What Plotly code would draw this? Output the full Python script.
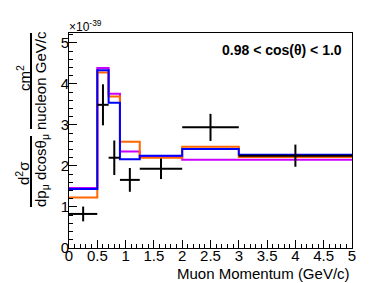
import plotly.graph_objects as go

# Data
bin_edges = [0, 0.5, 0.7, 0.9, 1.25, 2, 3, 5]
blue_vals = [1.44, 4.33, 3.54, 2.16, 2.25, 2.41, 2.27]
orange_vals = [1.23, 4.28, 3.69, 2.59, 2.20, 2.47, 2.22]
magenta_vals = [1.46, 4.39, 3.76, 2.35, 2.23, 2.15, 2.15]

data_x = [0.25, 0.6, 0.8, 1.075, 1.625, 2.5, 4.0]
data_xerr = [0.25, 0.1, 0.1, 0.175, 0.375, 0.5, 1.0]
data_y = [0.83, 3.49, 2.20, 1.66, 1.93, 2.94, 2.25]
data_yerr = [0.18, 0.50, 0.42, 0.29, 0.25, 0.33, 0.27]

x_ticks = [0, 0.5, 1, 1.5, 2, 2.5, 3, 3.5, 4, 4.5, 5]
x_ticklabels = ["0", "0.5", "1", "1.5", "2", "2.5", "3", "3.5", "4", "4.5", "5"]
y_ticks = [0, 1, 2, 3, 4, 5]
y_ticklabels = ["0", "1", "2", "3", "4", "5"]

W, H = 387, 283
L, R, T, B = 69, 35, 33, 35
pw, ph = W - L - R, H - T - B

def px(xp):
    return (xp - L) / pw

def py(yp):
    return (H - B - yp) / ph

FONT = "Liberation Sans, Arial, Helvetica, sans-serif"

fig = go.Figure()

def step_trace(vals, color):
    return go.Scatter(x=bin_edges, y=list(vals) + [vals[-1]], mode="lines",
                      line=dict(color=color, width=2, shape="hv"),
                      hoverinfo="skip", showlegend=False)

fig.add_trace(step_trace(magenta_vals, "#CC00FF"))
fig.add_trace(step_trace(orange_vals, "#FF6600"))
fig.add_trace(step_trace(blue_vals, "#0000FF"))

fig.add_trace(go.Scatter(
    x=data_x, y=data_y, mode="markers",
    marker=dict(color="black", size=2),
    error_x=dict(type="data", array=data_xerr, color="black", thickness=2, width=0),
    error_y=dict(type="data", array=data_yerr, color="black", thickness=2, width=0),
    showlegend=False))

axis_common = dict(showgrid=False, zeroline=False, showline=True, linecolor="black",
                   linewidth=1, mirror=True, ticks="inside", tickcolor="black",
                   tickfont=dict(family=FONT, size=15, color="black"))

fig.update_xaxes(range=[0, 5], tickvals=x_ticks, ticktext=x_ticklabels, ticklen=8,
                 ticklabelstandoff=-6,
                 minor=dict(dtick=0.1, ticks="inside", ticklen=4, tickcolor="black"),
                 **axis_common)
fig.update_yaxes(range=[0, 5.24], tickvals=y_ticks, ticktext=y_ticklabels, ticklen=8,
                 ticklabelstandoff=-4,
                 minor=dict(dtick=0.2, ticks="inside", ticklen=4, tickcolor="black"),
                 **axis_common)

ann = []
ann.append(dict(text="<b>0.98 &lt; cos(θ) &lt; 1.0</b>", x=px(344), y=py(50),
                xref="paper", yref="paper", xanchor="right", yanchor="middle",
                showarrow=False, font=dict(family=FONT, size=14, color="black")))
ann.append(dict(text="×10<sup>-39</sup>", x=px(67), y=py(26),
                xref="paper", yref="paper", xanchor="left", yanchor="middle",
                showarrow=False, font=dict(family=FONT, size=12, color="black")))
ann.append(dict(text="Muon Momentum (GeV/c)", x=1, y=py(273),
                xref="paper", yref="paper", xanchor="right", yanchor="middle",
                showarrow=False, font=dict(family=FONT, size=15, color="black")))
# y-axis label fractions
ann.append(dict(text="cm<sup>2</sup>", x=px(23), y=py(78), textangle=-90,
                xref="paper", yref="paper", xanchor="center", yanchor="middle",
                showarrow=False, font=dict(family=FONT, size=15, color="black")))
ann.append(dict(text="nucleon GeV/c", x=px(40), y=py(81), textangle=-90,
                xref="paper", yref="paper", xanchor="center", yanchor="middle",
                showarrow=False, font=dict(family=FONT, size=15, color="black")))
ann.append(dict(text="d<sup>2</sup>σ", x=px(22), y=py(173), textangle=-90,
                xref="paper", yref="paper", xanchor="center", yanchor="middle",
                showarrow=False, font=dict(family=FONT, size=15, color="black")))
ann.append(dict(text="dp<sub>μ</sub> dcosθ<sub>μ</sub>", x=px(41), y=py(171), textangle=-90,
                xref="paper", yref="paper", xanchor="center", yanchor="middle",
                showarrow=False, font=dict(family=FONT, size=15, color="black")))

shapes = [
    dict(type="line", xref="paper", yref="paper", x0=px(31), x1=px(31), y0=py(33), y1=py(129),
         line=dict(color="black", width=2)),
    dict(type="line", xref="paper", yref="paper", x0=px(31), x1=px(31), y0=py(136), y1=py(207),
         line=dict(color="black", width=2)),
]

fig.update_layout(width=W, height=H, margin=dict(l=L, r=R, t=T, b=B),
                  paper_bgcolor="white", plot_bgcolor="white",
                  annotations=ann, shapes=shapes, showlegend=False,
                  font=dict(family=FONT, color="black"))

fig.write_html("out.html", config={"displayModeBar": False},
               post_script="document.body.style.margin='0';document.body.style.overflow='hidden';")
